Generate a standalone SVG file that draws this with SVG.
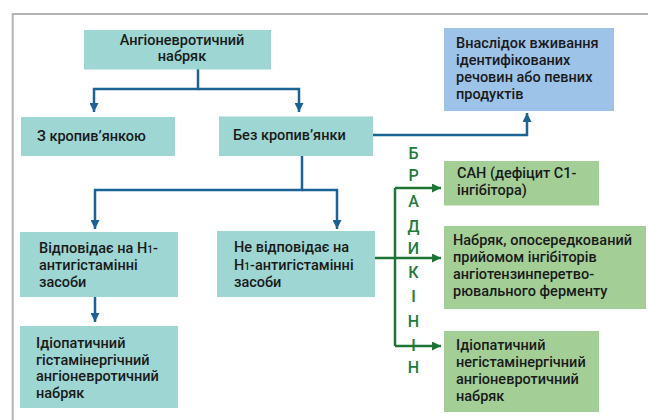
<svg xmlns="http://www.w3.org/2000/svg" width="648" height="420" viewBox="0 0 648 420">
<defs>
<style>
.teal{fill:#9dd6d2}
.blue{fill:#9dc3e9}
.green{fill:#a3cf97}
.t{font-family:Roboto,"Liberation Sans",sans-serif;font-weight:500;font-size:14.5px;fill:#1a1a1a}
.sub{font-size:10px}
.cb{fill:none;stroke:#1b6394;stroke-width:2.5}
.cg{fill:none;stroke:#1d7435;stroke-width:2.5}
.let{font-family:Roboto,"Liberation Sans",sans-serif;font-weight:500;font-size:16px;fill:#237a3a;text-anchor:middle}
</style>
<marker id="ab" viewBox="0 0 10 10" refX="10" refY="5" markerWidth="9" markerHeight="9" markerUnits="userSpaceOnUse" orient="auto"><path d="M0,0 L10,5 L0,10 z" fill="#1b6394"/></marker>
<marker id="ag" viewBox="0 0 10 10" refX="10" refY="5" markerWidth="9" markerHeight="9" markerUnits="userSpaceOnUse" orient="auto"><path d="M0,0 L10,5 L0,10 z" fill="#1d7435"/></marker>
</defs>
<rect width="648" height="420" fill="#fff"/>
<path d="M12.7,420 V14 H648" fill="none" stroke="#b4b4b4" stroke-width="2"/>

<g id="connectors">
<path class="cb" d="M198,69 V89 H94 V112" marker-end="url(#ab)"/>
<path class="cb" d="M198,89 H299 V112" marker-end="url(#ab)"/>
<path class="cb" d="M373,135 H527 V113" marker-end="url(#ab)"/>
<path class="cb" d="M302,156 V190 H95 V229" marker-end="url(#ab)"/>
<path class="cb" d="M302,190 H337 V229" marker-end="url(#ab)"/>
<path class="cb" d="M95,297 V322" marker-end="url(#ab)"/>
<path class="cg" d="M395,188 V346"/>
<path class="cg" d="M395,188 H441" marker-end="url(#ag)"/>
<path class="cg" d="M375,258 H441" marker-end="url(#ag)"/>
<path class="cg" d="M395,346 H441" marker-end="url(#ag)"/>
</g>

<g id="bradykinin">
<text class="let" x="413.5" y="158.5">Б</text>
<text class="let" x="413.5" y="181">Р</text>
<text class="let" x="413.5" y="206.5">А</text>
<text class="let" x="413.5" y="232">Д</text>
<text class="let" x="413.5" y="253.5">И</text>
<text class="let" x="413.5" y="277.5">К</text>
<text class="let" x="413.5" y="302">І</text>
<text class="let" x="413.5" y="326.5">Н</text>
<text class="let" x="413.5" y="351">І</text>
<text class="let" x="413.5" y="373">Н</text>
</g>

<g id="n1">
<rect class="teal" x="84" y="30" width="187" height="39.5"/>
<text class="t" x="182" y="45" text-anchor="middle">Ангіоневротичний</text>
<text class="t" x="182" y="61" text-anchor="middle">набряк</text>
</g>
<g id="n2">
<rect class="teal" x="21" y="117" width="154" height="39"/>
<text class="t" x="37" y="140.5">З кропив’янкою</text>
</g>
<g id="n3">
<rect class="teal" x="219" y="116.5" width="154" height="39.5"/>
<text class="t" x="233" y="140">Без кропив’янки</text>
</g>
<g id="n4">
<rect class="blue" x="444" y="28" width="170" height="83"/>
<text class="t" x="456" y="48">Внаслідок вживання</text>
<text class="t" x="456" y="65">ідентифікованих</text>
<text class="t" x="456" y="82">речовин або певних</text>
<text class="t" x="456" y="99">продуктів</text>
</g>
<g id="n5">
<rect class="teal" x="20" y="232" width="158" height="65"/>
<text class="t" x="39" y="253">Відповідає на Н<tspan class="sub">1</tspan>-</text>
<text class="t" x="39" y="270">антигістамінні</text>
<text class="t" x="39" y="287">засоби</text>
</g>
<g id="n6">
<rect class="teal" x="217" y="231" width="158" height="66"/>
<text class="t" x="234" y="252">Не відповідає на</text>
<text class="t" x="234" y="270">Н<tspan class="sub">1</tspan>-антигістамінні</text>
<text class="t" x="234" y="287">засоби</text>
</g>
<g id="n7">
<rect class="teal" x="20" y="326" width="158" height="82"/>
<text class="t" x="36" y="348">Ідіопатичний</text>
<text class="t" x="36" y="364.5">гістамінергічний</text>
<text class="t" x="36" y="381">ангіоневротичний</text>
<text class="t" x="36" y="397.5">набряк</text>
</g>
<g id="n8">
<rect class="green" x="444" y="161" width="155" height="44.5"/>
<text class="t" x="457" y="178">САН (дефіцит С1-</text>
<text class="t" x="457" y="195">інгібітора)</text>
</g>
<g id="n9">
<rect class="green" x="444" y="226" width="202" height="83"/>
<text class="t" x="453" y="245">Набряк, опосередкований</text>
<text class="t" x="453" y="262">прийомом інгібіторів</text>
<text class="t" x="453" y="279">ангіотензинперетво-</text>
<text class="t" x="453" y="296">рювального ферменту</text>
</g>
<g id="n10">
<rect class="green" x="444" y="331" width="155" height="81"/>
<text class="t" x="456" y="350">Ідіопатичний</text>
<text class="t" x="456" y="367">негістамінергічний</text>
<text class="t" x="456" y="384">ангіоневротичний</text>
<text class="t" x="456" y="401">набряк</text>
</g>
</svg>
